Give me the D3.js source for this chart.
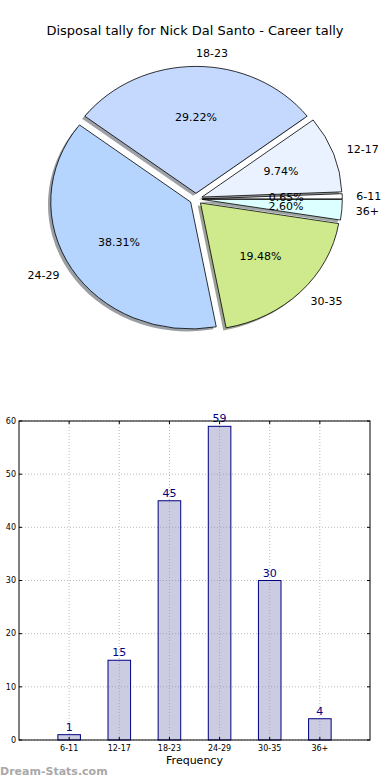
<!DOCTYPE html>
<html>
<head>
<meta charset="utf-8">
<script src="https://cdn.jsdelivr.net/npm/d3@7"></script>
<style>
  body { margin: 0; background: #fff; }
  svg { font-family: "DejaVu Sans", sans-serif; display: block; }
</style>
</head>
<body>
<div id="chart"></div>
<script>
// data
var categories = ["6-11", "12-17", "18-23", "24-29", "30-35", "36+"];
var tally = [1, 15, 45, 59, 30, 4];
var yTicks = [0, 10, 20, 30, 40, 50, 60];
var sliceColors = ["#fdfdff", "#ebf2ff", "#c5d9ff", "#b5d5ff", "#cfea8c", "#dcffff"];

var W = 390, H = 780;
var svg = d3.select("#chart").append("svg")
  .attr("width", W).attr("height", H);

// title
svg.append("text")
  .attr("x", 195).attr("y", 35)
  .attr("text-anchor", "middle")
  .style("font-size", "13px")
  .text("Disposal tally for Nick Dal Santo - Career tally");

// ---- pie (matplotlib style, slightly squashed) ----
var cx = 196, cy = 199, rx = 140, ry = 127, explode = 0.045;
var total = d3.sum(tally);

var pie = d3.pie().sort(null)
  .startAngle(Math.PI / 2)
  .endAngle(Math.PI / 2 - 2 * Math.PI);
var arcs = pie(tally);
var arc = d3.arc().innerRadius(0).outerRadius(1);

function off(d, k) {
  var a = (d.startAngle + d.endAngle) / 2;
  return [cx + k * rx * Math.sin(a), cy - k * ry * Math.cos(a)];
}

var pieG = svg.append("g");

// shadows first
arcs.forEach(function (d, i) {
  var p = off(d, explode);
  var c = d3.rgb(sliceColors[i]);
  pieG.append("path")
    .attr("d", arc(d))
    .attr("transform", "translate(" + (p[0] - 0.02 * rx) + "," + (p[1] + 0.02 * ry) + ") scale(" + rx + "," + ry + ")")
    .attr("fill", d3.rgb(c.r * 0.3, c.g * 0.3, c.b * 0.3))
    .attr("opacity", 0.5);
});

arcs.forEach(function (d, i) {
  var p = off(d, explode);
  pieG.append("path")
    .attr("d", arc(d))
    .attr("transform", "translate(" + p[0] + "," + p[1] + ") scale(" + rx + "," + ry + ")")
    .attr("fill", sliceColors[i])
    .attr("stroke", "#000")
    .attr("stroke-width", 0.8)
    .attr("vector-effect", "non-scaling-stroke");
});

arcs.forEach(function (d, i) {
  var a = (d.startAngle + d.endAngle) / 2;
  var l = off(d, explode + 1.1);
  pieG.append("text")
    .attr("x", l[0]).attr("y", l[1])
    .attr("dy", "0.35em")
    .attr("text-anchor", Math.sin(a) >= 0 ? "start" : "end")
    .style("font-size", "11px")
    .text(categories[i]);
  var t = off(d, explode + 0.6);
  pieG.append("text")
    .attr("x", t[0]).attr("y", t[1])
    .attr("dy", "0.35em")
    .attr("text-anchor", "middle")
    .style("font-size", "11px")
    .text(d3.format(".2f")(d.value / total * 100) + "%");
});

// ---- bar chart ----
var plotL = 19, plotR = 370, plotT = 421, plotB = 740;
var x = d3.scaleLinear().domain([0, 7]).range([plotL, plotR]);
var y = d3.scaleLinear().domain([0, 60]).range([plotB, plotT]);
var barW = 0.45;

var bar = svg.append("g");

// grid
bar.selectAll(".gy").data(yTicks).enter().append("line")
  .attr("x1", plotL).attr("x2", plotR)
  .attr("y1", function (d) { return y(d); })
  .attr("y2", function (d) { return y(d); })
  .attr("stroke", "#bbb").attr("stroke-dasharray", "1,2");
bar.selectAll(".gx").data(categories).enter().append("line")
  .attr("x1", function (d, i) { return x(i + 1); })
  .attr("x2", function (d, i) { return x(i + 1); })
  .attr("y1", plotT).attr("y2", plotB)
  .attr("stroke", "#bbb").attr("stroke-dasharray", "1,2");

// bars
bar.selectAll(".bar").data(tally).enter().append("rect")
  .attr("x", function (d, i) { return x(i + 1 - barW / 2); })
  .attr("width", x(barW) - x(0))
  .attr("y", function (d) { return y(d); })
  .attr("height", function (d) { return plotB - y(d); })
  .attr("fill", "rgba(140,140,190,0.45)")
  .attr("stroke", "#000080")
  .attr("stroke-width", 1);

bar.selectAll(".val").data(tally).enter().append("text")
  .attr("x", function (d, i) { return x(i + 1); })
  .attr("y", function (d) { return y(d) - 4; })
  .attr("text-anchor", "middle")
  .attr("fill", "#000080")
  .style("font-size", "11px")
  .text(function (d) { return d; });

// frame
bar.append("rect")
  .attr("x", plotL).attr("y", plotT)
  .attr("width", plotR - plotL).attr("height", plotB - plotT)
  .attr("fill", "none").attr("stroke", "#000").attr("stroke-width", 1);

// ticks
yTicks.forEach(function (t) {
  bar.append("line").attr("x1", plotL).attr("x2", plotL + 3)
    .attr("y1", y(t)).attr("y2", y(t)).attr("stroke", "#000");
  bar.append("line").attr("x1", plotR).attr("x2", plotR - 3)
    .attr("y1", y(t)).attr("y2", y(t)).attr("stroke", "#000");
  bar.append("text")
    .attr("x", plotL - 3).attr("y", y(t))
    .attr("dy", "0.35em")
    .attr("text-anchor", "end")
    .style("font-size", "8px")
    .text(t);
});
categories.forEach(function (c, i) {
  bar.append("line").attr("x1", x(i + 1)).attr("x2", x(i + 1))
    .attr("y1", plotB).attr("y2", plotB - 3).attr("stroke", "#000");
  bar.append("line").attr("x1", x(i + 1)).attr("x2", x(i + 1))
    .attr("y1", plotT).attr("y2", plotT + 3).attr("stroke", "#000");
  bar.append("text")
    .attr("x", x(i + 1)).attr("y", plotB + 11)
    .attr("text-anchor", "middle")
    .style("font-size", "8px")
    .text(c);
});

bar.append("text")
  .attr("x", (plotL + plotR) / 2).attr("y", 764)
  .attr("text-anchor", "middle")
  .style("font-size", "11px")
  .text("Frequency");

svg.append("text")
  .attr("x", 0).attr("y", 775)
  .attr("fill", "#a8a8a8")
  .style("font-size", "11px")
  .style("font-weight", "bold")
  .text("Dream-Stats.com");
</script>
</body>
</html>
